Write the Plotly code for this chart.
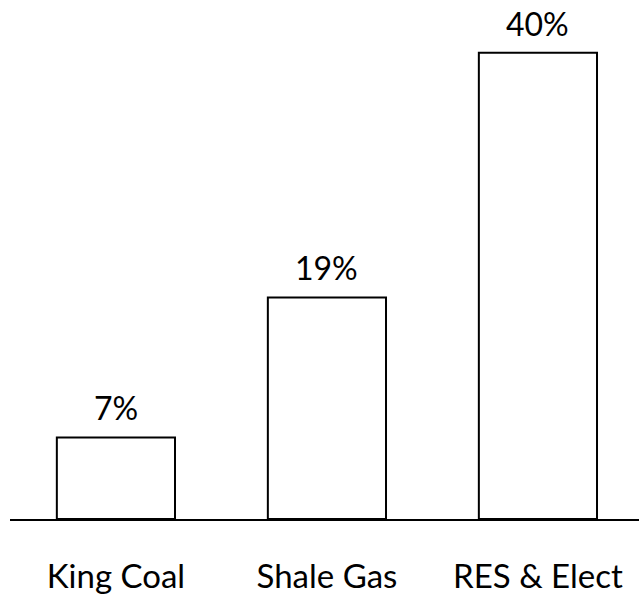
import plotly.graph_objects as go

categories = ["King Coal", "Shale Gas", "RES & Elect"]
shares = [7, 19, 40]
share_labels = ["7%", "19%", "40%"]

FONT = "Lato"

fig = go.Figure(
    go.Bar(
        x=categories,
        y=shares,
        marker=dict(color="white", line=dict(color="black", width=2)),
        width=0.56,
        hoverinfo="skip",
    )
)

# percentage labels sitting just above each bar
for cat, val, lab in zip(categories, shares, share_labels):
    fig.add_annotation(
        x=cat, y=val, text=lab, showarrow=False,
        yanchor="bottom", yshift=8,
        font=dict(family=FONT, size=32, color="black"),
    )

fig.update_layout(
    width=639, height=595,
    margin=dict(l=10, r=0, t=6, b=72),
    paper_bgcolor="white", plot_bgcolor="white",
    showlegend=False,
    xaxis=dict(
        range=[-0.502, 2.479],
        showline=True, linecolor="black", linewidth=2,
        ticks="", showgrid=False, zeroline=False,
        tickfont=dict(family=FONT, size=33, color="black"),
        ticklabelstandoff=27,
    ),
    yaxis=dict(
        range=[0, 44], visible=False, showgrid=False, zeroline=False,
    ),
)

fig.write_html("out.html")
